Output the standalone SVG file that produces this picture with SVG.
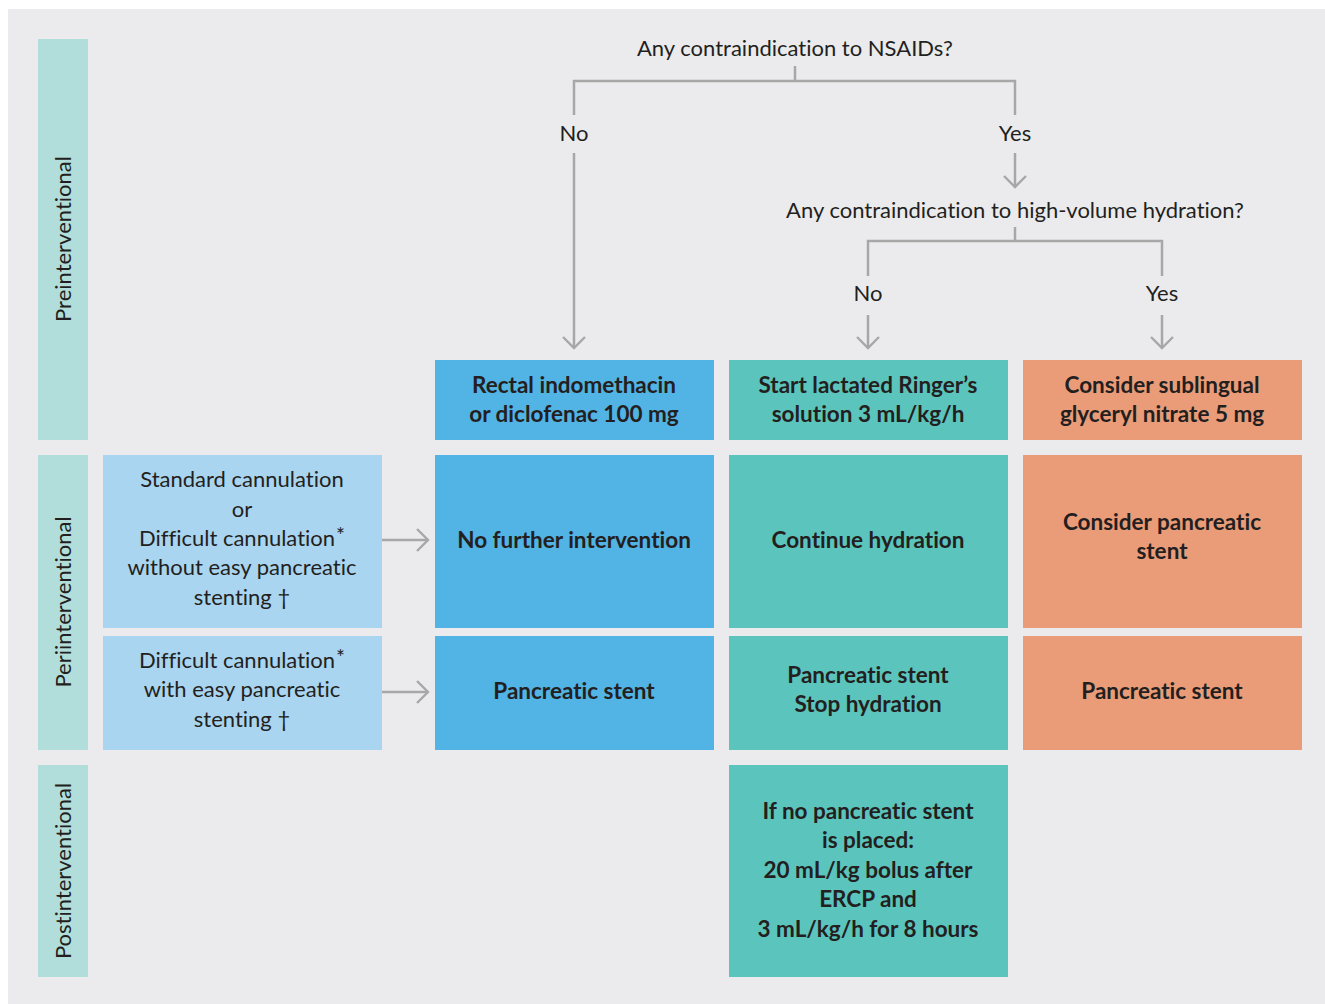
<svg xmlns="http://www.w3.org/2000/svg" width="1325" height="1004" viewBox="0 0 1325 1004">
<defs>
<style>
.t{font-family:Lato,"Noto Sans","DejaVu Sans",sans-serif;font-size:22px;fill:#231f20;text-anchor:middle;font-variant-ligatures:none}
.b{font-weight:bold;font-size:22.5px}
.side{fill:#b1deda}
.lb{fill:#a9d5f0}
.bl{fill:#52b3e5}
.tl{fill:#5bc5bd}
.or{fill:#ea9c79}
.c{fill:none;stroke:#a7a7a7;stroke-width:2.5}
</style>
<marker id="ah" viewBox="0 0 26 26" refX="23" refY="13" markerWidth="26" markerHeight="26" markerUnits="userSpaceOnUse" orient="auto">
<path d="M12,2 L23,13 L12,24" fill="none" stroke="#a7a7a7" stroke-width="2.4"/>
</marker>
</defs>
<rect x="0" y="0" width="1325" height="1004" fill="#ffffff"/>
<rect x="8" y="9" width="1317" height="995" fill="#ebebed"/>

<g id="phase-pre"><rect class="side" x="38" y="39" width="50" height="401"/><text class="t" transform="translate(71,239) rotate(-90)">Preinterventional</text></g>
<g id="phase-peri"><rect class="side" x="38" y="455" width="50" height="295"/><text class="t" transform="translate(71,602) rotate(-90)">Periinterventional</text></g>
<g id="phase-post"><rect class="side" x="38" y="765" width="50" height="212"/><text class="t" transform="translate(71,871) rotate(-90)">Postinterventional</text></g>

<g id="q1"><text class="t" x="795" y="56">Any contraindication to NSAIDs?</text></g>
<g id="q2"><text class="t" x="1015" y="218">Any contraindication to high-volume hydration?</text></g>

<g id="cond-standard"><rect class="lb" x="103" y="455" width="279" height="173"/>
<text class="t" x="242" y="487">Standard cannulation</text>
<text class="t" x="242" y="517">or</text>
<text class="t" x="242" y="546">Difficult cannulation<tspan dx="1" dy="-3" font-size="21">*</tspan></text>
<text class="t" x="242" y="575">without easy pancreatic</text>
<text class="t" x="242" y="605">stenting †</text></g>
<g id="cond-difficult"><rect class="lb" x="103" y="636" width="279" height="114"/>
<text class="t" x="242" y="668">Difficult cannulation<tspan dx="1" dy="-3" font-size="21">*</tspan></text>
<text class="t" x="242" y="697">with easy pancreatic</text>
<text class="t" x="242" y="727">stenting †</text></g>

<g id="nsaid"><rect class="bl" x="435" y="360" width="279" height="80"/>
<text class="t b" x="574" y="393">Rectal indomethacin</text>
<text class="t b" x="574" y="422">or diclofenac 100 mg</text></g>
<g id="no-further"><rect class="bl" x="435" y="455" width="279" height="173"/>
<text class="t b" x="574" y="548">No further intervention</text></g>
<g id="stent-a"><rect class="bl" x="435" y="636" width="279" height="114"/>
<text class="t b" x="574" y="699">Pancreatic stent</text></g>

<g id="ringer"><rect class="tl" x="729" y="360" width="279" height="80"/>
<text class="t b" x="868" y="393">Start lactated Ringer’s</text>
<text class="t b" x="868" y="422">solution 3 mL/kg/h</text></g>
<g id="continue"><rect class="tl" x="729" y="455" width="279" height="173"/>
<text class="t b" x="868" y="548">Continue hydration</text></g>
<g id="stent-b"><rect class="tl" x="729" y="636" width="279" height="114"/>
<text class="t b" x="868" y="683">Pancreatic stent</text>
<text class="t b" x="868" y="712">Stop hydration</text></g>
<g id="post"><rect class="tl" x="729" y="765" width="279" height="212"/>
<text class="t b" x="868" y="819">If no pancreatic stent</text>
<text class="t b" x="868" y="848">is placed:</text>
<text class="t b" x="868" y="878">20 mL/kg bolus after</text>
<text class="t b" x="868" y="907">ERCP and</text>
<text class="t b" x="868" y="937">3 mL/kg/h for 8 hours</text></g>

<g id="nitrate"><rect class="or" x="1023" y="360" width="279" height="80"/>
<text class="t b" x="1162" y="393">Consider sublingual</text>
<text class="t b" x="1162" y="422">glyceryl nitrate 5 mg</text></g>
<g id="consider-stent"><rect class="or" x="1023" y="455" width="279" height="173"/>
<text class="t b" x="1162" y="530">Consider pancreatic</text>
<text class="t b" x="1162" y="559">stent</text></g>
<g id="stent-c"><rect class="or" x="1023" y="636" width="279" height="114"/>
<text class="t b" x="1162" y="699">Pancreatic stent</text></g>

<g id="connectors">
<path class="c" d="M795,66 V81 M574,115 V81 H1015 V115"/>
<path class="c" d="M574,153 V348" marker-end="url(#ah)"/>
<path class="c" d="M1015,153 V187" marker-end="url(#ah)"/>
<path class="c" d="M1015,227 V241 M868,276 V241 H1162 V276"/>
<path class="c" d="M868,315 V348" marker-end="url(#ah)"/>
<path class="c" d="M1162,315 V348" marker-end="url(#ah)"/>
<path class="c" d="M382,540 H428" marker-end="url(#ah)"/>
<path class="c" d="M382,692 H428" marker-end="url(#ah)"/>
</g>
<g id="labels">
<text class="t" x="574" y="141">No</text>
<text class="t" x="1015" y="141">Yes</text>
<text class="t" x="868" y="301">No</text>
<text class="t" x="1162" y="301">Yes</text>
</g>
</svg>
